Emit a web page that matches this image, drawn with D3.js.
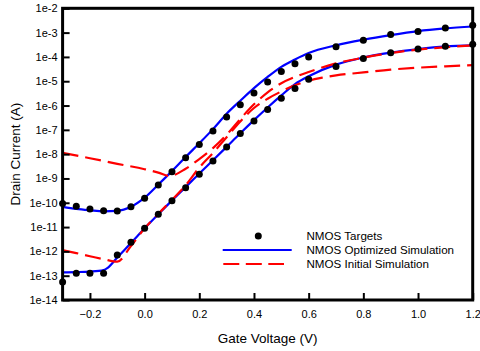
<!DOCTYPE html>
<html>
<head>
<meta charset="utf-8">
<script src="https://cdn.jsdelivr.net/npm/d3@7/dist/d3.min.js"></script>
<style>
  html, body { margin: 0; padding: 0; background: #fff; }
  svg { display: block; font-family: "Liberation Sans", Arial, Helvetica, sans-serif; }
</style>
</head>
<body>
<svg id="chart" width="480" height="351"></svg>
<script>
// Gate voltage sample points for the measured targets
const vTargets = [-0.3, -0.25, -0.2, -0.15, -0.1, -0.05, 0, 0.05, 0.1, 0.15, 0.2, 0.25, 0.3,
  0.35, 0.4, 0.45, 0.5, 0.55, 0.6, 0.7, 0.8, 0.9, 1.0, 1.1, 1.2];
// Measured drain current, high drain bias
const targetHigh = [9.3e-11, 7.2e-11, 5.5e-11, 4.7e-11, 4.6e-11, 6.8e-11, 1.55e-10, 5.4e-10, 1.9e-9,
  7.1e-9, 2.5e-8, 8.9e-8, 3.4e-7, 1.07e-6, 3.3e-6, 9.3e-6, 2.5e-5, 5.2e-5, 1.0e-4, 2.6e-4,
  4.8e-4, 8.3e-4, 1.12e-3, 1.55e-3, 2.0e-3];
// Measured drain current, low drain bias
const targetLow = [5.5e-14, 1.26e-13, 1.26e-13, 1.26e-13, 7.1e-13, 2.4e-12, 8.9e-12, 3.4e-11, 1.2e-10,
  4.1e-10, 1.5e-9, 5.2e-9, 1.95e-8, 7.1e-8, 2.3e-7, 6.9e-7, 2.0e-6, 5.0e-6, 1.2e-5, 4.0e-5,
  8.6e-5, 1.5e-4, 2.1e-4, 2.75e-4, 3.3e-4];

// Optimized simulation
const vOptHigh = [-0.3, -0.25, -0.2, -0.15, -0.1, -0.05, 0, 0.05, 0.1, 0.15, 0.2, 0.25, 0.3,
  0.35, 0.4, 0.45, 0.5, 0.55, 0.6, 0.7, 0.8, 0.9, 1.0, 1.1, 1.2];
const optHigh = [6.8e-11, 5.6e-11, 4.9e-11, 4.4e-11, 4.6e-11, 6.8e-11, 1.62e-10, 5.6e-10, 2.0e-9,
  7.6e-9, 2.8e-8, 1.07e-7, 4.6e-7, 1.58e-6, 5.2e-6, 1.5e-5, 3.9e-5, 7.9e-5, 1.45e-4, 3.0e-4,
  5.1e-4, 7.9e-4, 1.15e-3, 1.48e-3, 1.78e-3];
const vOptLow = [-0.3, -0.25, -0.2, -0.15, -0.135, -0.1, -0.05, 0, 0.05, 0.1, 0.15, 0.2, 0.25, 0.3,
  0.35, 0.4, 0.45, 0.5, 0.55, 0.6, 0.7, 0.8, 0.9, 1.0, 1.1, 1.2];
const optLow = [1.38e-13, 1.41e-13, 1.48e-13, 1.7e-13, 2.1e-13, 5.6e-13, 2.2e-12, 8.9e-12, 3.4e-11,
  1.23e-10, 4.4e-10, 1.6e-9, 5.6e-9, 2.0e-8, 7.2e-8, 2.5e-7, 8.3e-7, 2.6e-6, 7.6e-6, 1.6e-5,
  4.8e-5, 9.5e-5, 1.5e-4, 2.1e-4, 2.7e-4, 3.0e-4];

// Initial (pre-optimization) simulation
const vInitHigh = [-0.3, -0.2, -0.1, 0, 0.05, 0.09, 0.15, 0.2, 0.25, 0.3, 0.35, 0.4, 0.45, 0.5,
  0.55, 0.6, 0.7, 0.8, 0.9, 1.0, 1.1, 1.2];
const initHigh = [1.12e-8, 6.8e-9, 4.0e-9, 2.4e-9, 1.74e-9, 1.26e-9, 2.5e-9, 6.3e-9, 1.78e-8, 6.3e-8,
  2.8e-7, 1.12e-6, 3.5e-6, 8.3e-6, 1.5e-5, 2.4e-5, 5.4e-5, 9.3e-5, 1.45e-4, 2.0e-4, 2.5e-4, 3.0e-4];
const vInitLow = [-0.3, -0.25, -0.2, -0.15, -0.1, -0.05, 0, 0.05, 0.1, 0.15, 0.2, 0.25, 0.3, 0.35,
  0.4, 0.45, 0.5, 0.55, 0.6, 0.65, 0.7, 0.8, 0.9, 1.0, 1.1, 1.2];
const initLow = [1.12e-12, 8.5e-13, 6.3e-13, 4.8e-13, 3.8e-13, 1.66e-12, 8.9e-12, 3.5e-11, 1.32e-10,
  5.2e-10, 2.8e-9, 1.12e-8, 5.0e-8, 2.2e-7, 7.9e-7, 1.9e-6, 3.8e-6, 6.8e-6, 1.05e-5, 1.41e-5,
  1.74e-5, 2.3e-5, 3.0e-5, 3.6e-5, 4.1e-5, 4.6e-5];

// Axis ticks
const xTicks = [-0.2, 0.0, 0.2, 0.4, 0.6, 0.8, 1.0, 1.2];
const yTicks = [1e-14, 1e-13, 1e-12, 1e-11, 1e-10, 1e-9, 1e-8, 1e-7, 1e-6, 1e-5, 1e-4, 1e-3, 1e-2];

const legendLabels = ["NMOS Targets", "NMOS Optimized Simulation", "NMOS Initial Simulation"];

const svg = d3.select("#chart");
const plotL = 62.6, plotR = 472.7, plotT = 8.3, plotB = 300;

const x = d3.scaleLinear().domain([-0.3, 1.2]).range([plotL, plotR]);
const y = d3.scaleLog().domain([1e-14, 1e-2]).range([plotB, plotT]);

svg.append("defs").append("clipPath").attr("id", "plot-clip")
  .append("rect").attr("x", plotL).attr("y", plotT).attr("width", plotR - plotL).attr("height", plotB - plotT);

const pairs = (vs, is) => vs.map((v, i) => [v, is[i]]);
const line = d3.line().x(d => x(d[0])).y(d => y(d[1])).curve(d3.curveMonotoneX);

const curves = svg.append("g").attr("clip-path", "url(#plot-clip)");

// Optimized simulation curves
[pairs(vOptHigh, optHigh), pairs(vOptLow, optLow)].forEach(d => {
  curves.append("path").attr("d", line(d))
    .attr("fill", "none").attr("stroke", "#0000ff").attr("stroke-width", 2.2);
});

// Initial simulation curves
[pairs(vInitHigh, initHigh), pairs(vInitLow, initLow)].forEach(d => {
  curves.append("path").attr("d", line(d))
    .attr("fill", "none").attr("stroke", "#ff0000").attr("stroke-width", 2.2)
    .attr("stroke-dasharray", "16,7");
});

// Axes (ticks point into the plot)
const xAxis = d3.axisBottom(x).tickValues(xTicks).tickFormat(d3.format(".1f"))
  .tickSizeInner(-7).tickSizeOuter(0).tickPadding(10);
const yAxis = d3.axisLeft(y).tickValues(yTicks)
  .tickFormat(d => "1e" + Math.round(Math.log10(d)))
  .tickSizeInner(-7).tickSizeOuter(0).tickPadding(5);

const gx = svg.append("g").attr("transform", `translate(0,${plotB})`).call(xAxis);
const gy = svg.append("g").attr("transform", `translate(${plotL},0)`).call(yAxis);
[gx, gy].forEach(g => {
  g.select(".domain").remove();
  g.selectAll(".tick line").attr("stroke", "#000").attr("stroke-width", 2);
  g.selectAll(".tick text").attr("fill", "#000").attr("font-size", 11)
    .attr("font-family", "Liberation Sans, Arial, sans-serif");
});

// Frame
svg.append("rect").attr("x", plotL).attr("y", plotT).attr("width", plotR - plotL).attr("height", plotB - plotT)
  .attr("fill", "none").attr("stroke", "#000").attr("stroke-width", 3);

// Target points
const dots = svg.append("g");
[pairs(vTargets, targetHigh), pairs(vTargets, targetLow)].forEach(d => {
  dots.selectAll(null).data(d).enter().append("circle")
    .attr("cx", p => x(p[0])).attr("cy", p => y(p[1])).attr("r", 3.5).attr("fill", "#000");
});

// Axis titles
svg.append("text").attr("x", (plotL + plotR) / 2).attr("y", 343).attr("text-anchor", "middle")
  .attr("font-size", 13.5).text("Gate Voltage (V)");
svg.append("text").attr("transform", `translate(20,${(plotT + plotB) / 2}) rotate(-90)`)
  .attr("text-anchor", "middle").attr("font-size", 13.5).text("Drain Current (A)");

// Legend
const lg = svg.append("g");
const lgY = [236, 250, 264];
lg.append("circle").attr("cx", 258.3).attr("cy", lgY[0]).attr("r", 3.5).attr("fill", "#000");
lg.append("line").attr("x1", 222.7).attr("x2", 291.7).attr("y1", lgY[1]).attr("y2", lgY[1])
  .attr("stroke", "#0000ff").attr("stroke-width", 2.2);
lg.append("line").attr("x1", 223.3).attr("x2", 284).attr("y1", lgY[2]).attr("y2", lgY[2])
  .attr("stroke", "#ff0000").attr("stroke-width", 2.2).attr("stroke-dasharray", "16,6.5");
legendLabels.forEach((t, i) => {
  lg.append("text").attr("x", 306.5).attr("y", lgY[i]).attr("dy", "0.35em")
    .attr("font-size", 11.6).text(t);
});
</script>
</body>
</html>
